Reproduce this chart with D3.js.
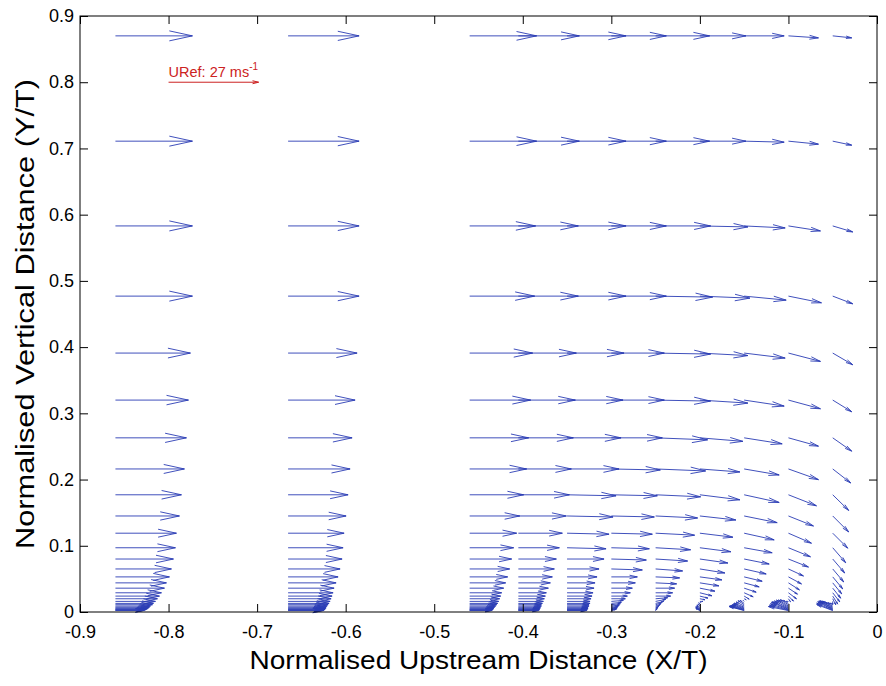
<!DOCTYPE html>
<html>
<head>
<meta charset="utf-8">
<script src="https://cdn.jsdelivr.net/npm/d3@7/dist/d3.min.js"></script>
<style>
  body { margin: 0; background: #fff; }
  text { font-family: "Liberation Sans", Arial, Helvetica, sans-serif; }
</style>
</head>
<body>
<div id="vis"></div>
<script>
// measurement stations (X/T) and heights (Y/T)
const stations = [-0.86, -0.665, -0.46, -0.405, -0.35, -0.30, -0.25, -0.20, -0.15, -0.10, -0.05];
const heights = [0.870, 0.711, 0.583, 0.477, 0.391, 0.320, 0.263, 0.216, 0.177, 0.145, 0.119,
  0.097, 0.080, 0.065, 0.053, 0.044, 0.036, 0.029, 0.024, 0.020, 0.016, 0.013, 0.011,
  0.009, 0.0073, 0.006, 0.0049, 0.004, 0.0033, 0.0027, 0.0022];

// streamwise velocity u (m/s), one list per station, top row first
const uSpeed = [
  [23.1,23.1,23.1,23.1,22.5,21.9,21.3,20.7,19.8,19.2,18.3,18.0,17.4,16.8,16.2,15.3,14.7,13.8,13.2,12.6,12.0,11.4,11.1,10.5,10.2,9.9,9.6,9.3,9.0,8.7,8.4],
  [21.3,21.3,21.3,21.3,20.7,20.1,19.2,18.6,18.0,17.4,16.8,16.5,16.2,15.6,15.0,14.4,13.8,13.5,13.2,12.9,12.6,12.3,12.0,11.7,11.4,11.4,11.1,11.1,10.8,10.8,10.5],
  [20.1,20.1,19.8,19.5,18.9,18.3,17.7,17.1,16.2,15.0,14.1,13.2,12.6,12.0,11.4,10.8,10.2,9.6,9.3,9.0,8.7,8.4,8.1,7.8,7.5,7.2,7.2,6.9,6.9,6.6,6.6],
  [18.3,18.3,18.0,18.0,17.4,17.1,16.5,15.9,15.3,14.4,13.2,12.3,11.4,10.8,10.2,9.6,9.0,8.4,8.1,7.8,7.5,7.2,6.9,6.9,6.6,6.6,6.3,6.3,6.3,6.0,6.0],
  [17.7,17.7,17.7,17.7,17.1,16.8,16.2,15.6,14.7,13.8,12.6,11.7,11.1,9.6,9.0,8.4,8.1,7.8,7.5,7.2,6.9,6.9,6.6,6.6,6.3,6.3,6.3,6.0,6.0,6.0,5.7],
  [16.5,16.5,16.5,16.5,15.9,15.9,15.3,14.7,13.8,12.9,12.3,11.4,10.5,9.3,7.8,7.2,6.3,5.7,4.8,4.2,3.6,3.0,2.7,2.4,2.1,1.8,1.8,1.5,1.5,1.5,1.2],
  [16.2,16.2,16.5,17.1,16.5,16.5,15.6,15.0,13.5,12.6,11.7,10.5,9.6,8.1,7.2,6.3,5.7,5.1,4.5,3.6,3.0,2.4,1.8,1.5,1.2,0.9,0.75,0.6,0.45,0.36,0.3],
  [13.8,13.8,14.4,15.0,14.4,14.4,12.9,12.0,12.0,10.8,9.9,9.3,8.4,7.5,6.6,5.7,4.5,3.6,2.4,1.5,0.9,0.3,-0.3,-0.6,-0.9,-0.9,-1.2,-1.2,-1.2,-1.2,-1.2],
  [12.0,12.0,12.3,12.6,12.3,12.0,11.4,10.5,10.5,9.9,9.0,8.4,7.5,6.6,5.4,4.5,3.6,2.7,1.5,0.6,-0.3,-1.2,-1.8,-2.4,-3.0,-3.3,-3.6,-3.9,-4.2,-4.5,-4.5],
  [9.0,9.0,9.6,9.9,9.6,9.6,9.0,9.0,8.4,7.5,6.9,6.6,6.0,4.5,3.9,3.3,2.7,2.4,1.5,0.6,-0.6,-1.5,-2.4,-3.0,-3.6,-4.2,-4.8,-5.1,-5.4,-5.7,-6.0],
  [5.7,5.7,6.0,6.0,6.0,5.7,5.7,5.4,4.8,4.8,4.5,3.9,3.6,3.3,3.0,2.7,2.4,2.1,1.5,0.9,0.0,-0.9,-1.5,-2.4,-3.0,-3.6,-3.9,-4.2,-4.5,-4.8,-4.8]
];

// vertical velocity v (m/s), same layout
const vSpeed = [
  [0,0,0,0,0,0,0,0,0,0,0,0,0,0,0,0,0,0,0,0,0,0,0,0,0,0,0,0,0,0,0],
  [0,0,0,0,0,0,0,0,0,0,0,0,0,0,0,0,0,0,0,0,0,0,0,0,0,0,0,0,0,0,0],
  [0,0,0,0,0,0,0,0,0,0,0,0,0,0,0,0,0,0,0,0,0,0,0,0,0,0,0,0,0,0,0],
  [0,0,0,0,0,0,0,0,0,0,0,0,0,0,0,0,0,0,0,0,0,0,0,0,0,0,0,0,0,0,0],
  [0,0,0,0,0,0,0,0,-0.3,-0.3,-0.3,-0.3,0,0,0,0,0,0,0,0,0,0,0,0,0,0,0,0,0,0,0],
  [0,0,0,0,0,0,0,-0.3,-0.3,-0.3,-0.3,-0.3,-0.3,-0.3,0,0,0,0,0,0,0.3,0.3,0.3,0.3,0.3,0.3,0.3,0.3,0.3,0.3,0.3],
  [0,0,0,-0.3,-0.3,-0.3,-0.6,-0.6,-0.6,-0.6,-0.6,-0.6,-0.6,-0.6,-0.3,-0.3,0,0,0,0.3,0.6,0.6,0.6,0.6,0.6,0.5,0.5,0.4,0.3,0.3,0.3],
  [0,0,-0.3,-0.6,-0.75,-0.9,-1.05,-0.9,-1.5,-1.2,-1.2,-1.2,-1.2,-1.2,-0.9,-0.9,-0.9,-0.9,-0.6,-0.3,0,0.3,0.6,0.6,0.6,0.6,0.6,0.6,0.6,0.6,0.6],
  [0,-0.3,-0.6,-1.2,-1.5,-1.8,-1.8,-1.8,-2.3,-2.0,-2.0,-1.5,-1.5,-1.5,-1.3,-1.2,-1.2,-1.2,-0.9,-0.3,0.3,0.9,1.2,1.2,1.2,1.2,1.2,1.2,1.2,1.2,1.2],
  [-0.6,-0.9,-1.5,-2.0,-2.5,-2.6,-2.5,-3.2,-3.3,-3.0,-3.0,-2.7,-2.4,-2.1,-2.1,-2.1,-1.8,-1.8,-1.5,-0.9,0,0.9,1.5,1.8,2.1,2.1,2.1,2.1,1.8,1.5,1.2],
  [-0.6,-1.2,-1.8,-2.3,-3.5,-3.5,-4.0,-4.2,-4.7,-4.8,-4.5,-4.5,-4.2,-3.9,-3.6,-3.3,-3.0,-2.7,-2.4,-1.8,-0.9,0,0.6,1.2,1.8,2.1,2.4,2.4,2.4,2.1,1.8]
];

const xTicks = [-0.9, -0.8, -0.7, -0.6, -0.5, -0.4, -0.3, -0.2, -0.1, 0];
const yTicks = [0, 0.1, 0.2, 0.3, 0.4, 0.5, 0.6, 0.7, 0.8, 0.9];

const refSpeed = 27;
const refPoint = [-0.8, 0.80];

const W = 886, H = 686;
const margin = {left: 80, top: 16, right: 9, bottom: 74};
const innerW = W - margin.left - margin.right;
const innerH = H - margin.top - margin.bottom;

const x = d3.scaleLinear().domain([-0.9, 0]).range([0, innerW]);
const y = d3.scaleLinear().domain([0, 0.9]).range([innerH, 0]);
// arrow length in px for a speed in m/s
const speed = d3.scaleLinear().domain([0, refSpeed]).range([0, 90]);

const fmt = d => d === 0 ? '0' : d.toFixed(1);

const svg = d3.select('#vis').append('svg')
  .attr('width', W)
  .attr('height', H);

const g = svg.append('g')
  .attr('transform', `translate(${margin.left},${margin.top})`);

// quiver style arrow: shaft plus two open head strokes
function arrowPath(x0, y0, dx, dy, backLen, halfW) {
  const len = Math.sqrt(dx * dx + dy * dy);
  if (len < 0.3) return '';
  const ux = dx / len, uy = dy / len;
  const x1 = x0 + dx, y1 = y0 + dy;
  const back = backLen != null ? backLen : 0.3 * len;
  const half = halfW != null ? halfW : 0.065 * len;
  const bx = x1 - back * ux, by = y1 - back * uy;
  return `M${x0},${y0}L${x1},${y1}` +
    `M${bx - half * uy},${by + half * ux}L${x1},${y1}L${bx + half * uy},${by - half * ux}`;
}

const vectors = [];
stations.forEach((s, i) => {
  heights.forEach((h, j) => {
    vectors.push({x: s, y: h, u: uSpeed[i][j], v: vSpeed[i][j]});
  });
});

g.append('g')
  .selectAll('path')
  .data(vectors)
  .join('path')
  .attr('d', d => arrowPath(x(d.x), y(d.y), speed(d.u), -speed(d.v)))
  .attr('fill', 'none')
  .attr('stroke', '#2a3cb4')
  .attr('stroke-width', 0.9);

// reference vector
const refColor = '#cc2222';
const ref = g.append('g').attr('fill', refColor);
ref.append('path')
  .attr('d', arrowPath(x(refPoint[0]), y(refPoint[1]), speed(refSpeed), 0, 6, 1.5))
  .attr('stroke', refColor)
  .attr('stroke-width', 1)
  .attr('fill', 'none');
const refText = ref.append('text')
  .attr('x', x(refPoint[0]))
  .attr('y', y(refPoint[1]) - 5)
  .attr('font-size', 14.5);
refText.append('tspan').text(`URef: ${refSpeed} ms`);
refText.append('tspan').attr('dy', -7).attr('font-size', 10).text('-1');

// axes, ticks pointing inwards on all four sides
const tickLen = 8;
const styleAxis = sel => {
  sel.select('.domain').remove();
  sel.selectAll('.tick line').attr('stroke', '#000');
  sel.selectAll('.tick text').attr('font-size', 18).attr('fill', '#000')
    .attr('font-family', '"Liberation Sans", Arial, sans-serif');
};

g.append('g')
  .attr('transform', `translate(0,${innerH})`)
  .call(d3.axisBottom(x).tickValues(xTicks).tickFormat(fmt).tickSize(-tickLen).tickPadding(13))
  .call(styleAxis);
g.append('g')
  .call(d3.axisTop(x).tickValues(xTicks).tickFormat('').tickSize(-tickLen))
  .call(styleAxis);
g.append('g')
  .call(d3.axisLeft(y).tickValues(yTicks).tickFormat(fmt).tickSize(-tickLen).tickPadding(6))
  .call(styleAxis);
g.append('g')
  .attr('transform', `translate(${innerW},0)`)
  .call(d3.axisRight(y).tickValues(yTicks).tickFormat('').tickSize(-tickLen))
  .call(styleAxis);

g.append('rect')
  .attr('width', innerW)
  .attr('height', innerH)
  .attr('fill', 'none')
  .attr('stroke', '#000')
  .attr('stroke-width', 1);

// axis titles
svg.append('text')
  .attr('x', margin.left + innerW / 2)
  .attr('y', 669)
  .attr('text-anchor', 'middle')
  .attr('font-size', 26)
  .attr('textLength', 458)
  .attr('lengthAdjust', 'spacingAndGlyphs')
  .text('Normalised Upstream Distance (X/T)');

svg.append('text')
  .attr('transform', `translate(34,${margin.top + innerH / 2}) rotate(-90)`)
  .attr('text-anchor', 'middle')
  .attr('font-size', 26)
  .attr('textLength', 470)
  .attr('lengthAdjust', 'spacingAndGlyphs')
  .text('Normalised Vertical Distance (Y/T)');
</script>
</body>
</html>
